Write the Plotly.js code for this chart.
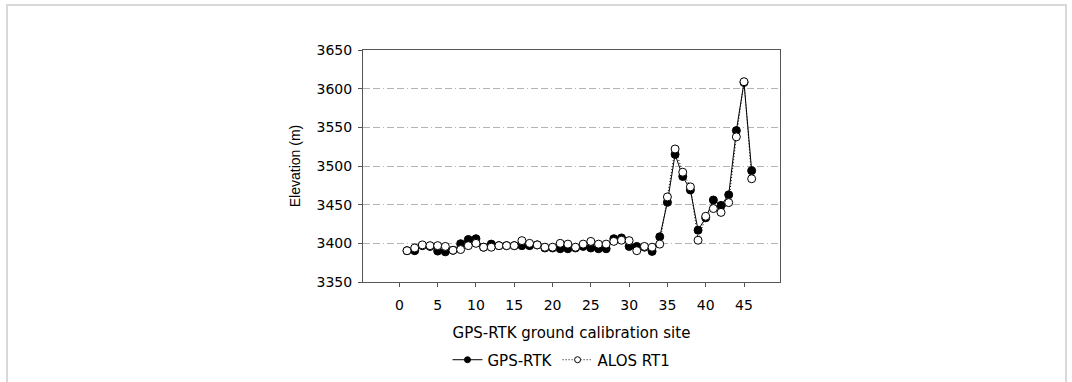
<!DOCTYPE html>
<html>
<head>
<meta charset="utf-8">
<script src="https://cdn.plot.ly/plotly-3.0.1.min.js"></script>
<style>
html,body{margin:0;padding:0;background:#fff;}
#frame{position:absolute;left:6px;top:4px;width:1061px;height:400px;border:2px solid #d9d9d9;box-sizing:border-box;pointer-events:none;}
#chart{width:1072px;height:382px;}
</style>
</head>
<body>
<div id="chart"></div>
<div id="frame"></div>
<script>
const site = [1,2,3,4,5,6,7,8,9,10,11,12,13,14,15,16,17,18,19,20,21,22,23,24,25,26,27,28,29,30,31,32,33,34,35,36,37,38,39,40,41,42,43,44,45,46];
const gpsRtk = [3390.5,3390.5,3397,3396,3390,3389,3391,3399.5,3405,3406,3395,3399,3397,3397,3397,3397,3397,3398,3394,3394,3393,3393,3394,3396,3394,3393,3393,3406,3407,3396,3396,3395,3389.5,3408.5,3453,3515,3486.5,3469,3417,3433,3456,3449,3462.7,3545.8,3608,3494];
const alosRt1 = [3390.5,3394,3398,3397,3397,3396,3391,3392,3397,3400,3395,3395,3397,3397,3397,3403.5,3400,3398,3395,3395,3400,3399,3395,3399,3402.5,3399,3399,3402.5,3404,3403.5,3390.5,3396,3395,3399,3460,3522,3492,3473,3404,3435,3445,3440,3452.7,3537.7,3609,3483.5];
const xTicks = [0,5,10,15,20,25,30,35,40,45];
const yTicks = [3350,3400,3450,3500,3550,3600,3650];

const wide = 'DejaVu Sans, Verdana, sans-serif';
const arial = 'Liberation Sans, Arial, sans-serif';
const dotted = '1px,2px';
const traces = [
  {x: site, y: gpsRtk, name: 'GPS-RTK', type: 'scatter', mode: 'lines+markers', showlegend: false,
   line: {color: '#000', width: 1},
   marker: {symbol: 'circle', size: 8, color: '#000', line: {color: '#000', width: 1}}},
  {x: site, y: alosRt1, name: 'ALOS RT1', type: 'scatter', mode: 'lines+markers', showlegend: false,
   line: {color: '#000', width: 1, dash: dotted},
   marker: {symbol: 'circle', size: 8, color: '#fff', line: {color: '#000', width: 1}}},
  {x: [null], y: [null], name: 'GPS-RTK', type: 'scatter', mode: 'lines+markers',
   line: {color: '#000', width: 1},
   marker: {symbol: 'circle', size: 6, color: '#000', line: {color: '#000', width: 1}}},
  {x: [null], y: [null], name: 'ALOS RT1', type: 'scatter', mode: 'lines+markers',
   line: {color: '#000', width: 1, dash: dotted},
   marker: {symbol: 'circle', size: 6, color: '#fff', line: {color: '#000', width: 1}}}
];
const layout = {
  width: 1072, height: 382,
  margin: {l: 363, r: 292, t: 50, b: 100, autoexpand: false},
  paper_bgcolor: '#fff', plot_bgcolor: '#fff',
  font: {family: wide, color: '#000', size: 14},
  showlegend: true,
  legend: {orientation: 'h', x: 0.476, xanchor: 'center', y: -0.265, yanchor: 'top',
           font: {family: wide, size: 15, color: '#000'}, bgcolor: 'rgba(0,0,0,0)', itemwidth: 30},
  xaxis: {
    automargin: false,
    range: [-4.75, 49.7], tickmode: 'array', tickvals: xTicks, ticktext: xTicks.map(String),
    showgrid: false, zeroline: false, showline: true, linecolor: '#555', linewidth: 1, mirror: true,
    ticks: 'outside', ticklen: 4, tickcolor: '#555', tickfont: {family: wide, size: 14},
    ticklabelstandoff: 6,
    title: {text: 'GPS-RTK ground calibration site', font: {family: wide, size: 15}, standoff: 15}
  },
  yaxis: {
    automargin: false,
    range: [3350, 3650], tickmode: 'array', tickvals: yTicks, ticktext: yTicks.map(String),
    showgrid: true, gridcolor: '#b4b4b4', gridwidth: 1, griddash: '7px,3px,7px,3px,1px,3px',
    zeroline: false, showline: true, linecolor: '#555', linewidth: 1, mirror: true,
    ticks: 'outside', ticklen: 4, tickcolor: '#555', tickfont: {family: wide, size: 14},
    ticklabelstandoff: 3,
    title: {text: 'Elevation (m)', font: {family: arial, size: 14}, standoff: 12}
  }
};
Plotly.newPlot('chart', traces, layout, {displayModeBar: false, staticPlot: true});
</script>
</body>
</html>
